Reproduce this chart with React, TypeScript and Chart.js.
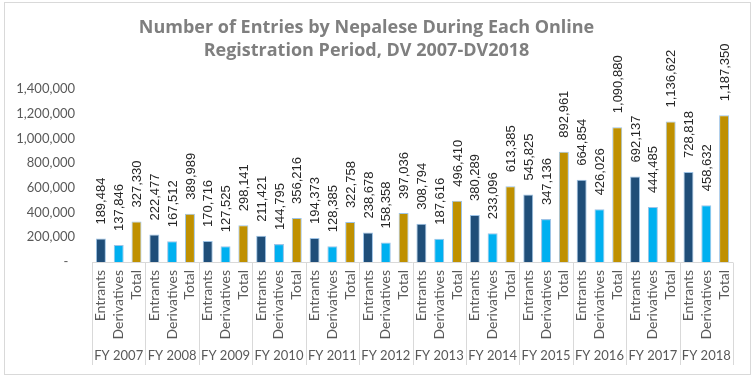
import React, { useEffect, useRef } from "react";
import { Chart, registerables } from "chart.js";

Chart.register(...registerables);

const years = ["FY 2007", "FY 2008", "FY 2009", "FY 2010", "FY 2011", "FY 2012", "FY 2013", "FY 2014", "FY 2015", "FY 2016", "FY 2017", "FY 2018"];
const subCategories = ["Entrants", "Derivatives", "Total"];
const entrants = [189484, 222477, 170716, 211421, 194373, 238678, 308794, 380289, 545825, 664854, 692137, 728818];
const derivatives = [137846, 167512, 127525, 144795, 128385, 158358, 187616, 233096, 347136, 426026, 444485, 458632];
const totals = [327330, 389989, 298141, 356216, 322758, 397036, 496410, 613385, 892961, 1090880, 1136622, 1187350];
const subColors = ["#1F4E79", "#00B0F0", "#BF9000"];
const titleLines = ["Number of Entries by Nepalese During Each Online", "Registration Period, DV 2007-DV2018"];

const labels: string[] = [];
const values: number[] = [];
const colors: string[] = [];
years.forEach((_, i) => {
  [entrants[i], derivatives[i], totals[i]].forEach((v, j) => {
    labels.push(subCategories[j]);
    values.push(v);
    colors.push(subColors[j]);
  });
});

const fmt = (v: number) => v.toLocaleString("en-US");

const decorPlugin = {
  id: "decor",
  beforeDraw(chart: any) {
    const { ctx, width, height } = chart;
    ctx.save();
    ctx.fillStyle = "#ffffff";
    ctx.fillRect(0, 0, width, height);
    ctx.strokeStyle = "#D9D9D9";
    ctx.lineWidth = 1;
    ctx.strokeRect(4.5, 2.5, 746, 372);
    ctx.restore();
  },
  afterDraw(chart: any) {
    const { ctx, chartArea } = chart;
    const n = labels.length;
    const step = (chartArea.right - chartArea.left) / n;
    const axisY = Math.round(chartArea.bottom) + 0.5;
    const bottom = 365;
    ctx.save();
    ctx.strokeStyle = "#D9D9D9";
    ctx.lineWidth = 1;
    ctx.beginPath();
    ctx.moveTo(chartArea.left, axisY);
    ctx.lineTo(chartArea.right, axisY);
    for (let g = 0; g <= years.length; g++) {
      const gx = Math.round(chartArea.left + g * 3 * step) + 0.5;
      ctx.moveTo(gx, axisY);
      ctx.lineTo(gx, bottom);
    }
    ctx.stroke();
    ctx.fillStyle = "#595959";
    ctx.font = "13px Lato";
    ctx.textAlign = "center";
    ctx.textBaseline = "middle";
    years.forEach((y, g) => {
      const cx = chartArea.left + (g * 3 + 1.5) * step;
      ctx.fillText(y, cx, 356);
    });
    ctx.restore();
  },
  afterDatasetsDraw(chart: any) {
    const { ctx } = chart;
    const meta = chart.getDatasetMeta(0);
    ctx.save();
    ctx.fillStyle = "#262626";
    ctx.font = "13px 'Liberation Sans'";
    ctx.textAlign = "left";
    ctx.textBaseline = "middle";
    meta.data.forEach((bar: any, i: number) => {
      ctx.save();
      ctx.translate(bar.x + 1, bar.y - 14);
      ctx.rotate(-Math.PI / 2);
      ctx.fillText(fmt(values[i]), 0, 0);
      ctx.restore();
    });
    ctx.restore();
  },
};

export default function App() {
  const ref = useRef<HTMLCanvasElement>(null);
  useEffect(() => {
    document.body.style.margin = "0";
    const chart = new Chart(ref.current!, {
      type: "bar",
      data: {
        labels,
        datasets: [
          {
            data: values,
            backgroundColor: colors,
            borderColor: "#9DC3E6",
            borderWidth: 1,
            barPercentage: 0.56,
            categoryPercentage: 1,
          },
        ],
      },
      options: {
        animation: false,
        responsive: false,
        layout: { padding: { top: 7, right: 23, bottom: 13, left: 0 } },
        plugins: {
          legend: { display: false },
          tooltip: { enabled: false },
          title: {
            display: true,
            text: titleLines,
            color: "#7F7F7F",
            font: { family: "'Open Sans'", size: 18, weight: "bold", lineHeight: 1.25 },
            padding: { top: 10, bottom: 27 },
          },
        },
        scales: {
          x: {
            grid: { display: false, drawTicks: false },
            border: { display: false },
            ticks: {
              autoSkip: false,
              maxRotation: 90,
              minRotation: 90,
              padding: 8,
              color: "#595959",
              font: { family: "Lato", size: 14 },
            },
            afterFit: (scale: any) => {
              scale.height = 103;
            },
          },
          y: {
            min: 0,
            max: 1400000,
            grid: { display: false, drawTicks: false },
            border: { display: false },
            ticks: {
              stepSize: 200000,
              padding: 17,
              color: "#595959",
              font: { family: "Lato", size: 13 },
              callback: (v: any) => (Number(v) === 0 ? "-  " : fmt(Number(v))),
            },
            afterFit: (scale: any) => {
              scale.width = 92;
            },
          },
        },
      },
      plugins: [decorPlugin],
    });
    return () => chart.destroy();
  }, []);
  return (
    <div style={{ width: 756, height: 378 }}>
      <canvas ref={ref} width={756} height={378} />
    </div>
  );
}
